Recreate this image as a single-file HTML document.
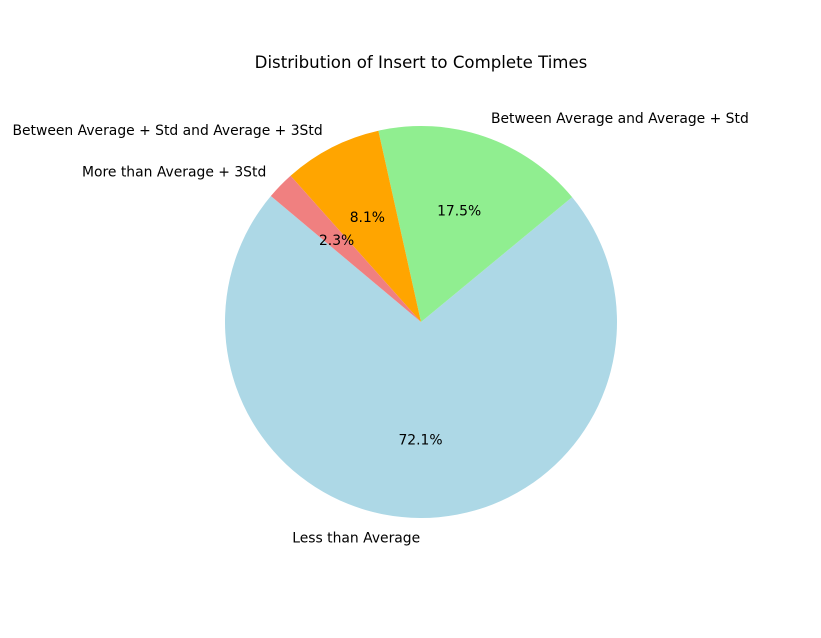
<!DOCTYPE html>
<html><head><meta charset="utf-8"><style>
body{margin:0;background:#fff;}
svg{display:block;font-family:"DejaVu Sans","Liberation Sans",sans-serif;}
</style></head><body>
<svg id="chart" width="821" height="638">
<rect width="821" height="638" fill="#fff"/>
<text x="421" y="68" font-size="16.6" text-anchor="middle">Distribution of Insert to Complete Times</text>
<g id="slices"></g>
</svg>
<script>
const categories = ["Less than Average","Between Average and Average + Std","Between Average + Std and Average + 3Std","More than Average + 3Std"];
const values = [72.1, 17.5, 8.1, 2.3];
const colors = ["#add8e6","#90ee90","#ffa500","#f08080"];
const startAngle = 140;
const cx = 421, cy = 322, R = 196;
const NS = "http://www.w3.org/2000/svg";
const g = document.getElementById("slices");
const total = values.reduce((a,b)=>a+b,0);
function pt(deg, r){const a=deg*Math.PI/180;return [cx+r*Math.cos(a), cy-r*Math.sin(a)];}
let a0 = startAngle;
values.forEach((v,i)=>{
  const sweep = v/total*360, a1 = a0+sweep;
  const p0=pt(a0,R), p1=pt(a1,R);
  const path=document.createElementNS(NS,"path");
  path.setAttribute("d",`M${cx},${cy} L${p0[0]},${p0[1]} A${R},${R} 0 ${sweep>180?1:0} 0 ${p1[0]},${p1[1]} Z`);
  path.setAttribute("fill",colors[i]);
  
  
  g.appendChild(path);
  const mid=(a0+a1)/2;
  const lp=pt(mid,R*1.1);
  const t=document.createElementNS(NS,"text");
  t.setAttribute("x",lp[0]);t.setAttribute("y",lp[1]+4.8);
  t.setAttribute("font-size","13.9");
  t.setAttribute("text-anchor",Math.cos(mid*Math.PI/180)>0?"start":"end");
  t.textContent=categories[i];
  
  
  g.appendChild(t);
  const pp=pt(mid,R*0.6);
  const p=document.createElementNS(NS,"text");
  p.setAttribute("x",pp[0]);p.setAttribute("y",pp[1]+4.8);
  p.setAttribute("font-size","13.9");p.setAttribute("text-anchor","middle");
  p.textContent=(v/total*100).toFixed(1)+"%";
  
  
  g.appendChild(p);
  a0=a1;
});
</script>
</body></html>
